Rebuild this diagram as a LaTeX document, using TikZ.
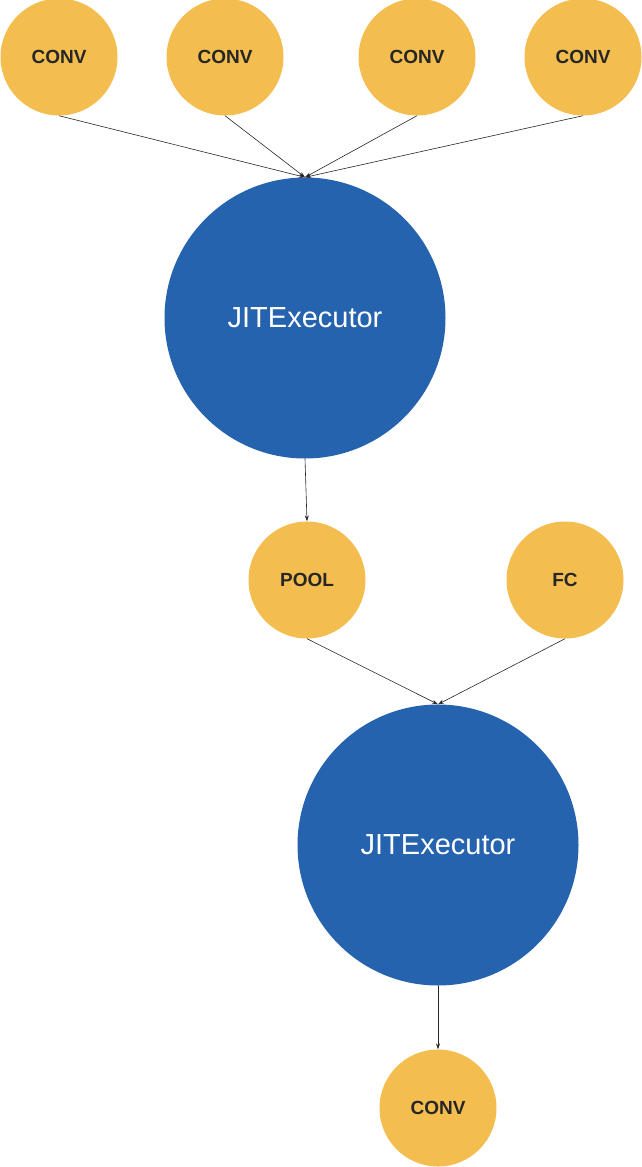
\documentclass[tikz,border=0pt]{standalone}
\usepackage{fontspec}
\setmainfont{Liberation Sans}
\usetikzlibrary{arrows.meta}
\begin{document}
\begin{tikzpicture}[x=1pt,y=-1pt,
  small/.style={circle,fill=orange1,minimum size=117pt,inner sep=0pt,font=\bfseries\fontsize{19}{22}\selectfont,text=black!85},
  big/.style={circle,fill=blue1,minimum size=281pt,inner sep=0pt,font=\fontsize{29}{34}\selectfont,text=white},
  conn/.style={draw=black!85,line width=0.6pt,-{Stealth[length=6pt,width=4pt]}}]
\definecolor{orange1}{HTML}{F4BD4F}
\definecolor{blue1}{HTML}{2563AE}
\useasboundingbox (0,0) rectangle (641,1167);
\colorlet{orange1}{orange1}
\node[small] (c1) at (59,57) {CONV};
\node[small] (c2) at (225,57) {CONV};
\node[small] (c3) at (417,57) {CONV};
\node[small] (c4) at (583,57) {CONV};
\node[big] (j1) at (305,318) {JITExecutor};
\node[small] (pool) at (307,580) {POOL};
\node[small] (fc) at (565,580) {FC};
\node[big] (j2) at (438,845) {JITExecutor};
\node[small] (c5) at (438,1108) {CONV};
\foreach \n in {c1,c2,c3,c4} \draw[conn] (\n.south) -- (j1.north);
\draw[conn] (j1.south) -- (pool.north);
\draw[conn] (pool.south) -- (j2.north);
\draw[conn] (fc.south) -- (j2.north);
\draw[conn] (j2.south) -- (c5.north);
\end{tikzpicture}
\end{document}
